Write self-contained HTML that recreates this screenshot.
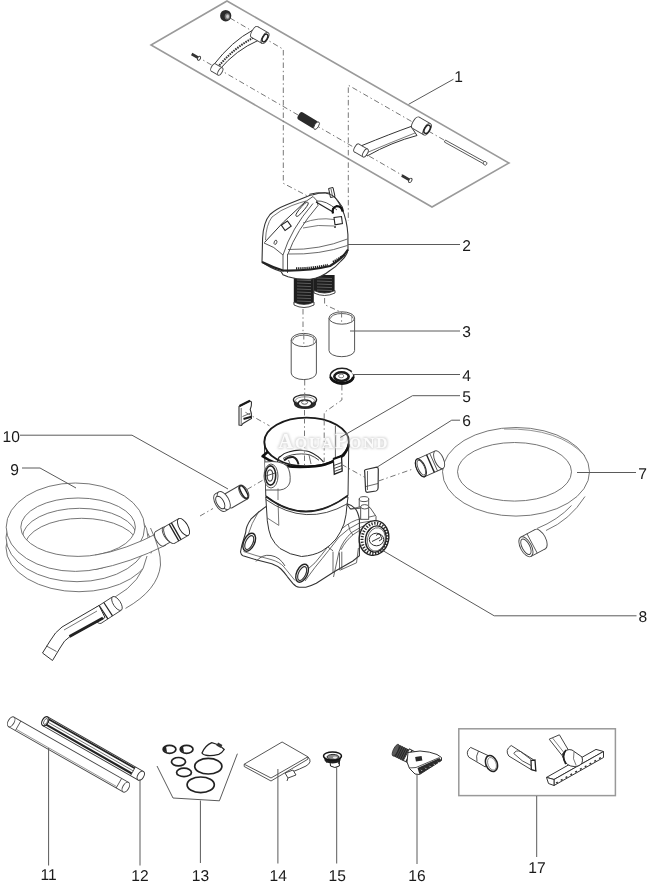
<!DOCTYPE html>
<html><head><meta charset="utf-8"><style>
html,body{margin:0;padding:0;background:#fff;}
svg{display:block;filter:grayscale(1);}
.lb{font-family:"Liberation Sans",sans-serif;font-size:15.6px;fill:#1a1a1a;text-rendering:geometricPrecision;}
.wm{font-family:"Liberation Serif",serif;font-size:15.5px;font-weight:bold;fill:#fff;fill-opacity:0.9;letter-spacing:1.9px;}
.ld{fill:none;stroke:#5a5a5a;stroke-width:1;}
.d{fill:none;stroke:#777;stroke-width:1;stroke-dasharray:5.5 2.8 1.4 2.8;}
</style></head><body>
<svg width="650" height="883" viewBox="0 0 650 883">
<defs><filter id="wmf" x="-10%" y="-30%" width="120%" height="160%"><feMorphology in="SourceAlpha" operator="dilate" radius="1" result="d"/><feGaussianBlur in="d" stdDeviation="1.2" result="b"/><feFlood flood-color="#d2d2d2" flood-opacity="0.9"/><feComposite in2="b" operator="in" result="s"/><feMerge><feMergeNode in="s"/><feMergeNode in="SourceGraphic"/></feMerge></filter></defs>
<polygon points="227,1 509,163 432,207 151,45" fill="none" stroke="#9a9a9a" stroke-width="1.6"/>
<polyline class="d" points="230,18 283.3,49.3 283.3,183.3 310.8,197.7"/>
<polyline class="d" points="196,56 407,178"/>
<polyline class="d" points="444,140 348.3,85.2 348.3,221"/>
<ellipse cx="225.7" cy="15.7" rx="5.6" ry="5.8" fill="#2b2b2b"/>
<ellipse cx="227.3" cy="16.4" rx="2.6" ry="3.2" fill="#777"/>
<ellipse cx="227.6" cy="16.6" rx="1.4" ry="2" fill="#ccc"/>
<g transform="translate(196,56.5) rotate(30)"><rect x="-5" y="-1.3" width="8" height="2.6" fill="#333"/><ellipse cx="3.5" cy="0" rx="1.3" ry="2.2" fill="#fff" stroke="#333" stroke-width="0.9"/></g>
<path d="M253,30 Q232,41 213.5,65 L219.5,69.5 Q236,50 258,40.5 Z" fill="#fff" stroke="#333" stroke-width="1" />
<path d="M255.5,36.5 Q234,47.5 218,67" fill="none" stroke="#333" stroke-width="2" stroke-dasharray="1.6 0.9"/>
<g transform="translate(259.8,35) rotate(30)"><ellipse cx="-6.0" cy="0" rx="2.79" ry="6.2" fill="#fff" stroke="#444" stroke-width="0.9"/><rect x="-6.0" y="-6.2" width="12" height="12.4" fill="#fff" stroke="none"/><line x1="-6.0" y1="-6.2" x2="6.0" y2="-6.2" stroke="#444" stroke-width="0.9"/><line x1="-6.0" y1="6.2" x2="6.0" y2="6.2" stroke="#444" stroke-width="0.9"/><ellipse cx="6.0" cy="0" rx="2.79" ry="6.2" fill="#fff" stroke="#444" stroke-width="0.9"/><ellipse cx="6" cy="0" rx="2.2" ry="4.2" fill="#fff" stroke="#222" stroke-width="1.5"/></g>
<g transform="translate(216.8,69.5) rotate(30)"><ellipse cx="-4.0" cy="0" rx="1.8900000000000001" ry="4.2" fill="#fff" stroke="#444" stroke-width="0.9"/><rect x="-4.0" y="-4.2" width="8" height="8.4" fill="#fff" stroke="none"/><line x1="-4.0" y1="-4.2" x2="4.0" y2="-4.2" stroke="#444" stroke-width="0.9"/><line x1="-4.0" y1="4.2" x2="4.0" y2="4.2" stroke="#444" stroke-width="0.9"/><ellipse cx="4.0" cy="0" rx="1.8900000000000001" ry="4.2" fill="#fff" stroke="#444" stroke-width="0.9"/></g>
<g transform="translate(308,120.5) rotate(31)"><rect x="-11" y="-4.3" width="21" height="8.6" rx="3" fill="#2a2a2a"/><ellipse cx="10" cy="0" rx="2" ry="4.3" fill="#fff" stroke="#333" stroke-width="0.8"/></g>
<path d="M411,126.5 Q390,134 362,145.5 L367,156 Q392,142 417,135.5 Z" fill="#fff" stroke="#333" stroke-width="1" />
<path d="M415,133 Q392,142 366,153" fill="none" stroke="#555" stroke-width="0.8" />
<g transform="translate(421.5,126) rotate(30)"><ellipse cx="-6.5" cy="0" rx="2.9699999999999998" ry="6.6" fill="#fff" stroke="#444" stroke-width="0.9"/><rect x="-6.5" y="-6.6" width="13" height="13.2" fill="#fff" stroke="none"/><line x1="-6.5" y1="-6.6" x2="6.5" y2="-6.6" stroke="#444" stroke-width="0.9"/><line x1="-6.5" y1="6.6" x2="6.5" y2="6.6" stroke="#444" stroke-width="0.9"/><ellipse cx="6.5" cy="0" rx="2.9699999999999998" ry="6.6" fill="#fff" stroke="#444" stroke-width="0.9"/><ellipse cx="6.5" cy="0" rx="2.5" ry="4.5" fill="#fff" stroke="#222" stroke-width="1.5"/></g>
<g transform="translate(361,150.5) rotate(30)"><ellipse cx="-5.0" cy="0" rx="2.07" ry="4.6" fill="#fff" stroke="#444" stroke-width="0.9"/><rect x="-5.0" y="-4.6" width="10" height="9.2" fill="#fff" stroke="none"/><line x1="-5.0" y1="-4.6" x2="5.0" y2="-4.6" stroke="#444" stroke-width="0.9"/><line x1="-5.0" y1="4.6" x2="5.0" y2="4.6" stroke="#444" stroke-width="0.9"/><ellipse cx="5.0" cy="0" rx="2.07" ry="4.6" fill="#fff" stroke="#444" stroke-width="0.9"/></g>
<g transform="translate(465,152.2) rotate(29)"><rect x="-23" y="-1.1" width="46" height="2.2" fill="#fff" stroke="#444" stroke-width="0.8"/><circle cx="23" cy="0" r="1.8" fill="#fff" stroke="#444" stroke-width="0.8"/></g>
<g transform="translate(407,178.5) rotate(30)"><rect x="-6" y="-1.3" width="9" height="2.6" fill="#333"/><ellipse cx="3.8" cy="0" rx="1.4" ry="2.4" fill="#fff" stroke="#333" stroke-width="0.9"/></g>
<polyline class="ld" points="408.6,104.3 453.5,79.2"/>
<text x="454.3" y="82.0" text-anchor="start" class="lb">1</text>
<polyline class="d" points="303,309 303,340"/>
<polyline class="d" points="324.6,298 324.6,304.6 341.5,312.3 341.5,321.5"/>
<rect x="293.8" y="277" width="20" height="27" fill="#1e1e1e"/>
<line x1="297" y1="280" x2="311" y2="280.6" stroke="#6a6a6a" stroke-width="0.8"/>
<line x1="297" y1="283" x2="311" y2="283.6" stroke="#6a6a6a" stroke-width="0.8"/>
<line x1="297" y1="286" x2="311" y2="286.6" stroke="#6a6a6a" stroke-width="0.8"/>
<line x1="297" y1="289" x2="311" y2="289.6" stroke="#6a6a6a" stroke-width="0.8"/>
<line x1="297" y1="292" x2="311" y2="292.6" stroke="#6a6a6a" stroke-width="0.8"/>
<line x1="297" y1="295" x2="311" y2="295.6" stroke="#6a6a6a" stroke-width="0.8"/>
<line x1="297" y1="298" x2="311" y2="298.6" stroke="#6a6a6a" stroke-width="0.8"/>
<line x1="297" y1="301" x2="311" y2="301.6" stroke="#6a6a6a" stroke-width="0.8"/>
<path d="M294,302 Q304,307 314,302 L314,305 Q304,310 294,305 Z" fill="#fff" stroke="#333" stroke-width="0.9" />
<rect x="313.6" y="275" width="21" height="18" fill="#1e1e1e"/>
<line x1="317" y1="278" x2="332" y2="278.6" stroke="#6a6a6a" stroke-width="0.8"/>
<line x1="317" y1="281" x2="332" y2="281.6" stroke="#6a6a6a" stroke-width="0.8"/>
<line x1="317" y1="284" x2="332" y2="284.6" stroke="#6a6a6a" stroke-width="0.8"/>
<line x1="317" y1="287" x2="332" y2="287.6" stroke="#6a6a6a" stroke-width="0.8"/>
<line x1="317" y1="290" x2="332" y2="290.6" stroke="#6a6a6a" stroke-width="0.8"/>
<path d="M314,290.5 Q324.5,295.5 335,290.5 L335,293 Q324.5,298 314,293 Z" fill="#fff" stroke="#333" stroke-width="0.9" />
<path d="M262,262 L262.6,238 Q263.5,222 270,214.5 Q276,209 286,205 Q297,200.5 307.7,196.2 Q310,195 313,194.7 Q321,192 329,193 Q336,196 342,208.7 Q347,220 347.9,234.5 L348,249.6 Q347,256 341,261 Q336,267 330,270.5 Q321,278 310,279.3 Q297,279.6 288,276.8 L283,274.8 L281,271.5 Q270,268 262,262 Z" fill="#fff" stroke="#333" stroke-width="1.1" />
<path d="M264.5,242.5 Q282,222 305,202" fill="none" stroke="#333" stroke-width="1" />
<path d="M264,243 Q274,246 283,255 L283,272 M287.5,254 L287.5,273" fill="none" stroke="#444" stroke-width="0.9" />
<path d="M283,255 Q291,229 313,203.5 M288,254 Q296,231 318,205.5 M305,202 L313,196.5 Q318,200 318,205.5" fill="none" stroke="#444" stroke-width="0.9" />
<path d="M265.5,240 Q266,225 272,217 Q280,210 292,205.5 Q300,202.5 306,201" fill="none" stroke="#555" stroke-width="0.8" />
<path d="M316,201 Q326,200 337,210" fill="none" stroke="#444" stroke-width="0.9" />
<path d="M303,223 Q318,217 334,219.5 M303,228 Q318,224 334,226" fill="none" stroke="#555" stroke-width="0.8" />
<path d="M288,249.5 Q320,250 347.4,239 M288,254 Q320,255 347.4,245.5" fill="none" stroke="#444" stroke-width="0.8" />
<path d="M262,262 Q272,267 283,270.5 Q310,271 330,266 Q342,259 348,249.5" fill="none" stroke="#222" stroke-width="2.2" />
<path d="M296,268.5 Q312,268.5 328,265" fill="none" stroke="#222" stroke-width="2.4" stroke-dasharray="1.3 0.8"/>
<path d="M333,262 L345,255" fill="none" stroke="#222" stroke-width="2.4" stroke-dasharray="1.3 0.8"/>
<rect x="282.5" y="222.5" width="7.5" height="6.5" fill="#fff" stroke="#222" stroke-width="1.1" transform="rotate(-35 286.2 225.7)"/>
<ellipse cx="275.5" cy="242.3" rx="1.3" ry="2.2" fill="none" stroke="#333" stroke-width="0.8" transform="rotate(20 275.5 242.3)"/>
<path d="M296,214.5 Q298,210 305,203.2 Q308.5,200.8 308.2,204 Q306,208.5 298.5,215.8 Q295.5,217.5 296,214.5 Z" fill="#fff" stroke="#333" stroke-width="1" />
<path d="M328.6,188.5 L333,187.5 L335,196.5 L330.5,197.5 Z" fill="#fff" stroke="#222" stroke-width="1"/>
<path d="M331,189 L332.6,196.5" fill="none" stroke="#444" stroke-width="0.8" />
<path d="M309.3,194.3 Q317,192 325.4,193 Q331,194 333.9,196.4 Q338,200 342.4,207 Q343.5,210 343.2,212.1" fill="none" stroke="#333" stroke-width="1" />
<path d="M316,202 L333,212" fill="none" stroke="#222" stroke-width="1.2" />
<path d="M333,213.5 Q331.5,207.5 336.5,206.2 Q341.5,206 342.6,211.5" fill="none" stroke="#111" stroke-width="2.2" />
<path d="M334,217.5 L341.5,216.5 L342.4,223.5 L335,224.8 Z" fill="#fff" stroke="#222" stroke-width="1.1" />
<ellipse cx="335" cy="227" rx="1" ry="1" fill="#333"/>
<polyline class="ld" points="348,244.5 460,244.5"/>
<text x="462.2" y="250.8" text-anchor="start" class="lb">2</text>
<path d="M329.0,318 L329.0,350.5 A12.8,6.2 0 0 0 354.6,350.5 L354.6,318" fill="#fff" stroke="#555" stroke-width="1"/>
<ellipse cx="341.8" cy="318" rx="12.8" ry="6.2" fill="#fff" stroke="#555" stroke-width="1"/>
<path d="M330.5,318.5 A11.3,5.0 0 0 1 353.1,318.5" fill="none" stroke="#555" stroke-width="0.9"/>
<path d="M351.6,313.6 L351.6,322.7" fill="none" stroke="#888" stroke-width="0.7"/>
<path d="M291.2,340 L291.2,373 A12.6,6.6 0 0 0 316.40000000000003,373 L316.40000000000003,340" fill="#fff" stroke="#555" stroke-width="1"/>
<ellipse cx="303.8" cy="340" rx="12.6" ry="6.6" fill="#fff" stroke="#555" stroke-width="1"/>
<path d="M292.7,340.5 A11.1,5.3999999999999995 0 0 1 314.90000000000003,340.5" fill="none" stroke="#555" stroke-width="0.9"/>
<path d="M313.40000000000003,335.2 L313.40000000000003,345.1" fill="none" stroke="#888" stroke-width="0.7"/>
<polyline class="d" points="303.8,334 303.8,346"/>
<polyline class="d" points="341.6,312 341.6,324"/>
<polyline class="ld" points="350,331 460,331"/>
<text x="462.2" y="336.9" text-anchor="start" class="lb">3</text>
<polyline class="d" points="304.7,380 304.7,394"/>
<polyline class="d" points="341.9,385 341.9,400 324.2,412.5 324.2,420"/>
<ellipse cx="342" cy="376.3" rx="11.8" ry="8" fill="#fff" stroke="#222" stroke-width="1.5"/>
<path d="M330.5,377 A11.8,8 0 0 0 353.5,377" fill="none" stroke="#111" stroke-width="2.6"/>
<ellipse cx="341.5" cy="376.6" rx="7.2" ry="4.4" fill="#fff" stroke="#1a1a1a" stroke-width="2.6"/>
<ellipse cx="341.2" cy="376" rx="2.6" ry="1.8" fill="#fff" stroke="#555" stroke-width="0.7"/>
<path d="M352,371.5 L355,374.5" stroke="#fff" stroke-width="2.2"/>
<path d="M293.4,399.7 L294.2,405 A11,5 0 0 0 315.8,405 L316.6,399.7 Z" fill="#2a2a2a"/>
<ellipse cx="305" cy="399.7" rx="11.6" ry="4.9" fill="#fff" stroke="#222" stroke-width="1.3"/>
<ellipse cx="305" cy="400.4" rx="9.5" ry="3.6" fill="none" stroke="#666" stroke-width="0.7"/>
<ellipse cx="305" cy="403.5" rx="6.8" ry="3.6" fill="#fff" stroke="#222" stroke-width="1.5"/>
<ellipse cx="304.6" cy="402.4" rx="3" ry="1.8" fill="#fff" stroke="#444" stroke-width="0.9"/>
<polyline class="d" points="304.7,394 304.7,399"/>
<polyline class="ld" points="353,374.5 460,374.5"/>
<text x="462.2" y="380.8" text-anchor="start" class="lb">4</text>
<polyline class="d" points="304.5,410 304.5,480"/>
<polyline class="d" points="324.2,420 324.2,455"/>
<path d="M266.6,506.2 Q258.8,511.4 250.9,519.2 Q246,526 245.7,532.3 L241.8,545.4 L240.5,552 Q241,555 243,555.8 L256.2,559.8 L271.8,563.7 Q278,566 281,569 Q285,573 287.5,576.8 L292.8,583.3 Q296,587 299.3,587.2 L305.8,587.2 Q311,586 316.3,583.3 L334.6,571.5 L352.9,561 L359.4,555.8 L359.4,519.2 Q358,512 355.5,508.8 Q352,505 346.4,503.5 Z" fill="#fff" stroke="#333" stroke-width="1.1" />
<path d="M243.5,551.5 L256,555.5 L271,559.5 Q280,562 284,567 L295,580.5" fill="none" stroke="#555" stroke-width="0.8" />
<path d="M259,511 Q251,524 248,535" fill="none" stroke="#555" stroke-width="0.8" />
<path d="M256,561.5 Q262,554 271,555.5 Q280,557 285,566" fill="none" stroke="#444" stroke-width="0.9" />
<path d="M346.5,504.5 L351,509 L370,507.5 L376,516.3 L376,522" fill="none" stroke="#444" stroke-width="0.9" />
<path d="M300,576 Q308,569 315,562.8 Q330,545 338,532.3 Q346,524 356.5,519.9 L375,515.7" fill="none" stroke="#444" stroke-width="0.8" />
<path d="M305,581 Q310,574 315,567.4 Q330,549 339,537 Q348,528 359.3,523 L370.4,521.2" fill="none" stroke="#444" stroke-width="0.8" />
<path d="M333.5,577 L339,551.7 Q343,540 352,532.3 Q360,527 370.4,523" fill="none" stroke="#444" stroke-width="0.8" />
<path d="M340.9,549.9 Q346,540 353.8,534.2 Q362,528 370.4,525" fill="none" stroke="#444" stroke-width="0.8" />
<path d="M333,551.7 L333,573 M339.5,552.6 L339.5,570.2 M341.8,551.7 L341.8,569.3" fill="none" stroke="#444" stroke-width="0.8" />
<path d="M327.9,547.1 L333,550.8 M348.2,524 L350,530.5 L352.9,535" fill="none" stroke="#444" stroke-width="0.8" />
<path d="M358.4,548 L356.5,562.8 L340,570.2" fill="none" stroke="#444" stroke-width="0.8" />
<path d="M347.3,503.7 L350,509.2 L359.3,507" fill="none" stroke="#444" stroke-width="0.8" />
<ellipse cx="249.2" cy="542.2" rx="5.4" ry="9.6" fill="#fff" stroke="#222" stroke-width="1.4" transform="rotate(25 249.2 542.2)"/>
<ellipse cx="249.39999999999998" cy="542.5" rx="3.6" ry="7.4" fill="none" stroke="#333" stroke-width="1.1" transform="rotate(25 249.2 542.2)"/>
<ellipse cx="302.1" cy="573.2" rx="5.4" ry="9.6" fill="#fff" stroke="#222" stroke-width="1.4" transform="rotate(25 302.1 573.2)"/>
<ellipse cx="302.3" cy="573.5" rx="3.6" ry="7.4" fill="none" stroke="#333" stroke-width="1.1" transform="rotate(25 302.1 573.2)"/>
<path d="M265.8,497 L267.3,520.8 Q268.5,531 271,537 Q275,544.5 280,548.5 Q290,555 301.5,556.5 Q314,555.5 322,551 Q331,545.5 336,539 Q341,532 344,524 Q346.5,515 347,505 L348,497 Z" fill="#fff" stroke="#333" stroke-width="1" />
<path d="M278,500 L278.8,525.4 M267.3,518 L278.8,525.4" fill="none" stroke="#555" stroke-width="0.8" />
<path d="M264.4,443 L265.8,496.2 Q305.8,527.2 348,495.4 L348.8,443 Z" fill="#fff" stroke="#333" stroke-width="1" />
<path d="M265.8,496.2 Q305.8,527.2 348,495.4" fill="none" stroke="#222" stroke-width="1.8" />
<path d="M265.8,499.5 Q305.8,527.5 347.3,503.8" fill="none" stroke="#333" stroke-width="0.9" />
<ellipse cx="306.6" cy="442" rx="42.3" ry="24.4" fill="#fff" stroke="#1a1a1a" stroke-width="1.9"/>
<path d="M268.2,451.5 L262.6,456.3 Q268,460 275.8,463.2 Q284,466.5 300,467 Q318,466.5 325,464.4 Q336,461 343.5,455.2 Q348,449 349,444" fill="none" stroke="#111" stroke-width="2.6" stroke-linejoin="round"/>
<path d="M335.4,425.5 L335.4,460" fill="none" stroke="#555" stroke-width="0.9" />
<path d="M277.4,463 Q278,457 280.2,456.6 Q284,453 288.5,452 Q295,450 300.5,450.2 Q305,450.5 308.8,451.5 Q314,453.5 318,456.6 Q321,459 323.6,462.2" fill="none" stroke="#222" stroke-width="1.2" />
<path d="M283,458.5 Q287,456 292.2,454.8 Q297,454 301.4,453.9 Q306,454 309.7,454.8 Q315,457 319,460.3" fill="none" stroke="#333" stroke-width="0.9" />
<path d="M284,460.5 Q288,456.5 293,457 Q297,458 298.6,464.5" fill="none" stroke="#222" stroke-width="1.9" />
<path d="M279,459.5 L283,465 M288.5,460 L290.5,465.5 M309,455 L311,464" fill="none" stroke="#444" stroke-width="0.8" />
<path d="M265,462 Q280,460 287,466 Q291,472 290,482 Q288,489 280,490 L266,490" fill="#fff" stroke="#444" stroke-width="0.9" />
<path d="M278,488.5 L278,500" fill="none" stroke="#555" stroke-width="0.8" />
<ellipse cx="271" cy="476" rx="7" ry="12" fill="#fff" stroke="#444" stroke-width="0.9"/>
<ellipse cx="270.5" cy="475.5" rx="5.2" ry="9.6" fill="#fff" stroke="#222" stroke-width="1.6"/>
<ellipse cx="270" cy="475.5" rx="2.8" ry="5.6" fill="none" stroke="#444" stroke-width="1.1"/>
<path d="M266,476 L275,473" fill="none" stroke="#444" stroke-width="0.9" />
<path d="M333.3,459 L341.5,456 L342.2,471 L334.3,474.2 Z" fill="#fff" stroke="#222" stroke-width="1.3" />
<path d="M333.8,465.5 L341.8,462.5 M334,468.5 L342,465.5 M334.2,471.5 L342.1,468.5" fill="none" stroke="#333" stroke-width="0.9" />
<path d="M333.3,459 L341.5,456" fill="none" stroke="#111" stroke-width="2.2" />
<polyline class="d" points="304.5,418 304.5,466"/>
<polyline class="d" points="324.2,420 324.2,462"/>
<rect x="359.2" y="499.1" width="9.5" height="8" fill="#fff" stroke="#444" stroke-width="0.9"/>
<ellipse cx="364" cy="499.1" rx="4.75" ry="2.5" fill="#fff" stroke="#444" stroke-width="0.9"/>
<rect x="360.7" y="506.8" width="8" height="12.5" fill="#fff" stroke="#444" stroke-width="0.9"/>
<ellipse cx="364.7" cy="506.8" rx="4" ry="2.2" fill="#fff" stroke="#444" stroke-width="0.9"/>
<ellipse cx="374" cy="538" rx="14.7" ry="17.5" fill="#fff" stroke="#222" stroke-width="1.4" transform="rotate(12 374 538)"/>
<ellipse cx="374.6" cy="538.4" rx="12.5" ry="15.3" fill="none" stroke="#2a2a2a" stroke-width="3" stroke-dasharray="1.3 1.5" transform="rotate(12 374.6 538.4)"/>
<ellipse cx="375.8" cy="539" rx="10.2" ry="13.2" fill="#fff" stroke="#222" stroke-width="1.4" transform="rotate(12 375.8 539)"/>
<ellipse cx="376.3" cy="539.4" rx="8.8" ry="11.8" fill="none" stroke="#555" stroke-width="0.8" transform="rotate(12 376.3 539.4)"/>
<ellipse cx="376.5" cy="539.5" rx="7.2" ry="6.3" fill="none" stroke="#333" stroke-width="1"/>
<path d="M372,541.5 L380,537.5 M376,535.5 Q378,533 380,534.5 L382,539 L379,541" fill="none" stroke="#333" stroke-width="1" />
<g filter="url(#wmf)"><text x="278.6" y="448" class="wm"><tspan font-size="20">A</tspan>QUA<tspan font-size="20">P</tspan>OND</text></g>
<path d="M239,406.5 L249.8,400.8 L251.5,402 L251.3,406 L250.2,409.5 L251.3,413 L251.5,418.5 L243,423.5 L241.5,425.4 L239,425 Z" fill="#fff" stroke="#333" stroke-width="1.1" />
<path d="M239.5,406 L250,400.8" fill="none" stroke="#1a1a1a" stroke-width="2.2" />
<path d="M241.2,408 L241.2,424.5 M242.5,416.5 L250.5,413.2" fill="none" stroke="#444" stroke-width="0.8" />
<path d="M243.5,419 L251.3,416.8" fill="none" stroke="#1a1a1a" stroke-width="2" />
<polyline class="d" points="245.4,412.3 269.5,425.8"/>
<polyline class="d" points="341.6,464.4 364.7,477.3"/>
<path d="M364.7,471.8 Q364,470 366,469.5 L376.7,467.2 Q378.5,467.5 378.3,469.5 L378.1,488 Q378,490.5 376,491 L367,492.3 Q365.5,492 365.6,490.2 Z" fill="#fff" stroke="#333" stroke-width="1.2" />
<path d="M367.5,471 L367.5,490 M366,486.5 L378,483.5" fill="none" stroke="#444" stroke-width="0.8" />
<polyline class="d" points="378.5,481 413,469"/>
<polyline class="ld" points="340.4,437.4 412.5,395.7 460,395.7"/>
<text x="462.2" y="401.8" text-anchor="start" class="lb">5</text>
<polyline class="ld" points="377,467.2 451.7,420.2 460,420.2"/>
<text x="462.2" y="426.4" text-anchor="start" class="lb">6</text>
<ellipse cx="516" cy="471.8" rx="73.5" ry="44.3" fill="none" stroke="#666" stroke-width="0.9"/>
<ellipse cx="514.5" cy="471.8" rx="57" ry="29.3" fill="none" stroke="#666" stroke-width="0.9"/>
<path d="M504,429 Q560,428 585,456" fill="none" stroke="#777" stroke-width="0.8" />
<path d="M585,496.5 Q570,520 546,530.5 M571.5,505.5 Q558,520 537,528.5" fill="none" stroke="#666" stroke-width="0.9" />
<g transform="translate(430,463.8) rotate(-24)"><ellipse cx="-10.0" cy="0" rx="4.32" ry="9.6" fill="#fff" stroke="#444" stroke-width="0.9"/><rect x="-10.0" y="-9.6" width="20" height="19.2" fill="#fff" stroke="none"/><line x1="-10.0" y1="-9.6" x2="10.0" y2="-9.6" stroke="#444" stroke-width="0.9"/><line x1="-10.0" y1="9.6" x2="10.0" y2="9.6" stroke="#444" stroke-width="0.9"/><ellipse cx="10.0" cy="0" rx="4.32" ry="9.6" fill="#fff" stroke="#444" stroke-width="0.9"/><line x1="0.5" y1="-9.6" x2="0.5" y2="9.6" stroke="#222" stroke-width="1.4"/><line x1="4" y1="-9.6" x2="4" y2="9.6" stroke="#444" stroke-width="0.8"/><ellipse cx="-10" cy="0" rx="4.3" ry="9.6" fill="#fff" stroke="#222" stroke-width="1.2"/><ellipse cx="-9.5" cy="0" rx="3.2" ry="8" fill="#fff" stroke="#444" stroke-width="0.9"/></g>
<g transform="translate(533,543) rotate(152)"><ellipse cx="-8.0" cy="0" rx="5.5" ry="11" fill="#fff" stroke="#444" stroke-width="0.9"/><rect x="-8.0" y="-11" width="16" height="22" fill="#fff" stroke="none"/><line x1="-8.0" y1="-11" x2="8.0" y2="-11" stroke="#444" stroke-width="0.9"/><line x1="-8.0" y1="11" x2="8.0" y2="11" stroke="#444" stroke-width="0.9"/><ellipse cx="8.0" cy="0" rx="5.5" ry="11" fill="#fff" stroke="#444" stroke-width="0.9"/><line x1="1" y1="-11" x2="1" y2="11" stroke="#444" stroke-width="0.8"/><ellipse cx="8" cy="0" rx="3.8" ry="8.5" fill="#fff" stroke="#444" stroke-width="0.9"/></g>
<polyline class="ld" points="577,472.5 636,472.5"/>
<text x="638.3" y="478.6" text-anchor="start" class="lb">7</text>
<polyline class="ld" points="381,549.5 494.2,615.8 636.5,615.8"/>
<text x="638.6" y="622.3" text-anchor="start" class="lb">8</text>
<path d="M6,547.5 A73,44.2 0 1 0 152,547.5 A73,44.2 0 1 0 6,547.5 Z M24.400000000000006,547.5 A57.3,29.2 0 1 1 139.0,547.5 A57.3,29.2 0 1 1 24.400000000000006,547.5 Z" fill="#fff" fill-rule="evenodd" stroke="#666" stroke-width="0.9"/>
<path d="M6,537.5 A71,44.2 0 1 0 148,537.5 A71,44.2 0 1 0 6,537.5 Z M22.400000000000006,537.5 A57.3,29.2 0 1 1 137.0,537.5 A57.3,29.2 0 1 1 22.400000000000006,537.5 Z" fill="#fff" fill-rule="evenodd" stroke="#666" stroke-width="0.9"/>
<path d="M6.200000000000003,527.2 A69.2,44.2 0 1 0 144.60000000000002,527.2 A69.2,44.2 0 1 0 6.200000000000003,527.2 Z M20.80000000000001,527.2 A57.3,29.2 0 1 1 135.4,527.2 A57.3,29.2 0 1 1 20.80000000000001,527.2 Z" fill="#fff" fill-rule="evenodd" stroke="#666" stroke-width="0.9"/>
<path d="M95,555.1 Q125,550.4 160,532 L166,545 Q130,563 95,569.6 Z" fill="#fff" stroke="none" stroke-width="0" />
<path d="M95,555.1 Q125,550.4 160,532 M95,569.6 Q130,563 166,545" fill="none" stroke="#666" stroke-width="0.9" />
<path d="M147,554 Q142,582 115,597 L125.5,608.4 Q160,585 160.8,552 Z" fill="#fff" stroke="none" stroke-width="0" />
<path d="M147,556 Q142,582 115,597" fill="none" stroke="#666" stroke-width="0.9" />
<path d="M150.5,528 Q161,550 160.5,565 Q158,590 125.5,608.4" fill="none" stroke="#666" stroke-width="0.9" />
<g transform="translate(163.5,536.5) rotate(-30)"><ellipse cx="-4.5" cy="0" rx="3.69" ry="8.2" fill="#fff" stroke="#444" stroke-width="0.9"/><rect x="-4.5" y="-8.2" width="9" height="16.4" fill="#fff" stroke="none"/><line x1="-4.5" y1="-8.2" x2="4.5" y2="-8.2" stroke="#444" stroke-width="0.9"/><line x1="-4.5" y1="8.2" x2="4.5" y2="8.2" stroke="#444" stroke-width="0.9"/><ellipse cx="4.5" cy="0" rx="3.69" ry="8.2" fill="#fff" stroke="#444" stroke-width="0.9"/></g>
<g transform="translate(176.6,531) rotate(-30)"><ellipse cx="-8.0" cy="0" rx="4.32" ry="9.6" fill="#fff" stroke="#444" stroke-width="0.9"/><rect x="-8.0" y="-9.6" width="16" height="19.2" fill="#fff" stroke="none"/><line x1="-8.0" y1="-9.6" x2="8.0" y2="-9.6" stroke="#444" stroke-width="0.9"/><line x1="-8.0" y1="9.6" x2="8.0" y2="9.6" stroke="#444" stroke-width="0.9"/><ellipse cx="8.0" cy="0" rx="4.32" ry="9.6" fill="#fff" stroke="#222" stroke-width="0.9"/><line x1="-3" y1="-9.6" x2="-3" y2="9.6" stroke="#222" stroke-width="1.3"/><line x1="-0.5" y1="-9.6" x2="-0.5" y2="9.6" stroke="#222" stroke-width="1.3"/></g>
<g transform="translate(106.9,610) rotate(-33)"><ellipse cx="-12.0" cy="0" rx="3.6" ry="8" fill="#fff" stroke="#444" stroke-width="0.9"/><rect x="-12.0" y="-8" width="24" height="16" fill="#fff" stroke="none"/><line x1="-12.0" y1="-8" x2="12.0" y2="-8" stroke="#444" stroke-width="0.9"/><line x1="-12.0" y1="8" x2="12.0" y2="8" stroke="#444" stroke-width="0.9"/><ellipse cx="12.0" cy="0" rx="3.6" ry="8" fill="#fff" stroke="#444" stroke-width="0.9"/><line x1="-4" y1="-8" x2="-4" y2="8" stroke="#222" stroke-width="1.2"/><line x1="1.5" y1="-8" x2="1.5" y2="8" stroke="#222" stroke-width="1.2"/></g>
<path d="M99,605.5 L62,627 Q55,632 50,641 L42.5,653 L52.5,660.5 L60,648 Q64,640 70,636.5 L105,617.5 Z" fill="#fff" stroke="#333" stroke-width="1" />
<path d="M103,618 L69.5,636.5" fill="none" stroke="#222" stroke-width="2.8" />
<path d="M64,630 L97,611" fill="none" stroke="#555" stroke-width="0.8" />
<path d="M46.5,646 L56.5,651.5" fill="none" stroke="#444" stroke-width="0.8" />
<polyline class="ld" points="22,468 40,468 76,488"/>
<text x="10.3" y="474.6" text-anchor="start" class="lb">9</text>
<polyline class="ld" points="20,435.2 132,435.2 228,489"/>
<text x="2.5" y="441.6" text-anchor="start" class="lb">10</text>
<polyline class="d" points="200,516 213,508.5"/>
<polyline class="d" points="247,489.5 264,479.5"/>
<g transform="translate(236,496.5) rotate(-30)"><ellipse cx="-9.0" cy="0" rx="3.9" ry="7.8" fill="#fff" stroke="#444" stroke-width="0.9"/><rect x="-9.0" y="-7.8" width="18" height="15.6" fill="#fff" stroke="none"/><line x1="-9.0" y1="-7.8" x2="9.0" y2="-7.8" stroke="#444" stroke-width="0.9"/><line x1="-9.0" y1="7.8" x2="9.0" y2="7.8" stroke="#444" stroke-width="0.9"/><ellipse cx="9.0" cy="0" rx="3.9" ry="7.8" fill="#fff" stroke="#444" stroke-width="0.9"/><ellipse cx="9" cy="0" rx="2.5" ry="7" fill="#fff" stroke="#222" stroke-width="1.5"/></g>
<g transform="translate(222,501.5) rotate(-30)"><ellipse cx="-2.0" cy="0" rx="5.0" ry="10" fill="#fff" stroke="#444" stroke-width="0.9"/><rect x="-2.0" y="-10" width="4" height="20" fill="#fff" stroke="none"/><line x1="-2.0" y1="-10" x2="2.0" y2="-10" stroke="#444" stroke-width="0.9"/><line x1="-2.0" y1="10" x2="2.0" y2="10" stroke="#444" stroke-width="0.9"/><ellipse cx="2.0" cy="0" rx="5.0" ry="10" fill="#fff" stroke="#444" stroke-width="0.9"/><ellipse cx="-2" cy="0" rx="3.5" ry="7" fill="#fff" stroke="#333" stroke-width="0.9"/></g>
<g transform="translate(68.5,754.5) rotate(29.7)"><rect x="-66" y="-5.5" width="132" height="11" fill="#fff" stroke="#444" stroke-width="0.9"/><ellipse cx="-66" cy="0" rx="3" ry="5.5" fill="#fff" stroke="#444" stroke-width="0.9"/><ellipse cx="66" cy="0" rx="3" ry="5.5" fill="#fff" stroke="#444" stroke-width="0.9"/><line x1="-58" y1="-5.5" x2="-58" y2="5.5" stroke="#444" stroke-width="0.8"/><line x1="58" y1="-5.5" x2="58" y2="5.5" stroke="#444" stroke-width="0.8"/><line x1="-58" y1="4" x2="58" y2="4" stroke="#888" stroke-width="0.8"/></g>
<g transform="translate(93,748.5) rotate(29.7)"><rect x="-55" y="-5" width="110" height="10" fill="#fff" stroke="#333" stroke-width="0.9"/><line x1="-53" y1="-3.5" x2="46" y2="-3.5" stroke="#222" stroke-width="1.8"/><line x1="-53" y1="2.5" x2="46" y2="2.5" stroke="#222" stroke-width="2.2"/><line x1="-53" y1="-0.5" x2="46" y2="-0.5" stroke="#666" stroke-width="0.8"/><ellipse cx="-55" cy="0" rx="3" ry="5" fill="#fff" stroke="#222" stroke-width="1.2"/><ellipse cx="-54.5" cy="0" rx="1.6" ry="3.3" fill="none" stroke="#555" stroke-width="0.8"/><ellipse cx="55" cy="0" rx="3" ry="5" fill="#fff" stroke="#333" stroke-width="0.9"/><line x1="46" y1="-5" x2="46" y2="5" stroke="#333" stroke-width="0.8"/></g>
<polyline class="ld" points="48.6,748 48.6,865.5"/>
<text x="48.5" y="880.3" text-anchor="middle" class="lb">11</text>
<polyline class="ld" points="140,779 140,865.5"/>
<text x="140" y="880.8" text-anchor="middle" class="lb">12</text>
<polyline class="ld" points="157,766 173,798 219.4,800.8 237.4,753.7"/>
<polyline class="ld" points="200.4,800.5 200.4,863"/>
<text x="200.5" y="880.8" text-anchor="middle" class="lb">13</text>
<ellipse cx="169.5" cy="749.3" rx="6.4" ry="4" fill="none" stroke="#222" stroke-width="1.7"/>
<ellipse cx="186.6" cy="749.3" rx="6.4" ry="4" fill="none" stroke="#222" stroke-width="1.7"/>
<ellipse cx="178.5" cy="761.7" rx="7" ry="4.2" fill="none" stroke="#222" stroke-width="1.7"/>
<ellipse cx="208.3" cy="766.2" rx="13.6" ry="7.8" fill="none" stroke="#222" stroke-width="1.7"/>
<ellipse cx="184" cy="772.4" rx="7.4" ry="4.2" fill="none" stroke="#222" stroke-width="1.7"/>
<ellipse cx="200.7" cy="784.8" rx="13.6" ry="7.8" fill="none" stroke="#222" stroke-width="1.7"/>
<path d="M163.5,749 A6.4,4 0 0 1 166,746 L167,752.5 A6.4,4 0 0 1 163.5,749 Z" fill="#222"/>
<path d="M180.5,749 A6.4,4 0 0 1 183,746 L184,752.5 A6.4,4 0 0 1 180.5,749 Z" fill="#222"/>
<path d="M202,753 Q205,745.5 211.8,742.6 L216,744 Q221,746 224.2,749.5 Q222,753 218.7,754.4 Q212,756 207.6,755.5 Q203,755 202,753 Z" fill="#fff" stroke="#222" stroke-width="1.3" />
<rect x="217" y="743.5" width="5" height="3.5" fill="#333" transform="rotate(30 219.5 745)"/>
<path d="M244.2,764.2 L282.1,742 L307.9,756.8 L271,778 Z" fill="#fff" stroke="#444" stroke-width="0.9" />
<path d="M244.2,764.2 L244.2,766.5 L271,781 L307.9,759.2 L307.9,756.8" fill="none" stroke="#444" stroke-width="0.9" />
<path d="M308,757 Q313,762 306,766 Q300,769 292,772" fill="none" stroke="#333" stroke-width="0.9" />
<path d="M285,773 L293,770 L296,775 L288,778 Z M288,778 L287,781" fill="#fff" stroke="#333" stroke-width="0.9" />
<polyline class="ld" points="277.9,769 277.9,863.5"/>
<text x="278.3" y="881.0" text-anchor="middle" class="lb">14</text>
<path d="M330,761 L330.5,766 Q334.8,769 339.3,766 L339.5,761 Z" fill="#fff" stroke="#222" stroke-width="1" />
<path d="M323.5,756 L324.8,761 A8.3,3.8 0 0 0 340.2,761 L341.5,756 Z" fill="#1e1e1e"/>
<ellipse cx="332.5" cy="756" rx="9" ry="4" fill="#fff" stroke="#111" stroke-width="1.5"/>
<ellipse cx="333" cy="757" rx="6" ry="2.6" fill="#8a8a8a" stroke="#222" stroke-width="0.9"/>
<ellipse cx="335" cy="757.6" rx="2.2" ry="1.1" fill="#e8e8e8"/>
<path d="M326,760 L327,763 M338,761 L338.8,764" fill="none" stroke="#222" stroke-width="0.9" />
<polyline class="ld" points="336.7,767 336.7,863.5"/>
<text x="337.3" y="881.0" text-anchor="middle" class="lb">15</text>
<g transform="translate(401.5,753) rotate(26)"><rect x="-6.5" y="-6.4" width="13" height="12.8" fill="#4a4a4a"/><ellipse cx="-6.5" cy="0" rx="2.3" ry="6.4" fill="#5a5a5a" stroke="#333" stroke-width="0.8"/><line x1="-4" y1="-6.4" x2="-4" y2="6.4" stroke="#222" stroke-width="0.8"/><line x1="-2" y1="-6.4" x2="-2" y2="6.4" stroke="#222" stroke-width="0.8"/><line x1="0" y1="-6.4" x2="0" y2="6.4" stroke="#222" stroke-width="0.8"/><line x1="2" y1="-6.4" x2="2" y2="6.4" stroke="#222" stroke-width="0.8"/><line x1="4" y1="-6.4" x2="4" y2="6.4" stroke="#222" stroke-width="0.8"/></g>
<g transform="translate(409,756) rotate(28)"><rect x="-3" y="-6.5" width="6" height="13" fill="#fff" stroke="#333" stroke-width="0.9"/><line x1="0" y1="-6.5" x2="0" y2="6.5" stroke="#222" stroke-width="1.4"/></g>
<path d="M408,752.5 L420,751 Q430,751.5 437,754.5 L441.5,757.5 L441.5,760.5 L419.5,774.5 L415,774 L409.5,768.5 L407,762 Z" fill="#fff" stroke="#333" stroke-width="1" />
<path d="M417.5,768 L439.5,758 L441.5,760.5 L419.5,774.5 Z" fill="#2a2a2a"/>
<line x1="421.0" y1="769.8" x2="422.2" y2="771.0" stroke="#ddd" stroke-width="0.8"/>
<line x1="425.2" y1="767.8" x2="426.4" y2="769.0" stroke="#ddd" stroke-width="0.8"/>
<line x1="429.4" y1="765.8" x2="430.59999999999997" y2="767.0" stroke="#ddd" stroke-width="0.8"/>
<line x1="433.6" y1="763.8" x2="434.8" y2="765.0" stroke="#ddd" stroke-width="0.8"/>
<line x1="437.8" y1="761.8" x2="439.0" y2="763.0" stroke="#ddd" stroke-width="0.8"/>
<path d="M409,768 L416,767.5 L439.5,757.5" fill="none" stroke="#444" stroke-width="0.9" />
<rect x="415.5" y="756.5" width="6.5" height="4.5" fill="#2a2a2a" transform="rotate(-10 418.7 758.7)"/>
<polyline class="ld" points="417,774 417,864"/>
<text x="417" y="881.4" text-anchor="middle" class="lb">16</text>
<rect x="458.8" y="728.8" width="156.6" height="66.8" fill="none" stroke="#999" stroke-width="1.5"/>
<path d="M470.6,747.4 L490.3,756.6 L485.4,767 L468.8,757.2 Q465,752 470.6,747.4 Z" fill="#fff" stroke="#444" stroke-width="1" />
<path d="M478.5,751 Q475.5,756 477,761.5" fill="none" stroke="#444" stroke-width="0.9" />
<ellipse cx="491.5" cy="763.5" rx="5.6" ry="8.4" fill="#fff" stroke="#222" stroke-width="1.5" transform="rotate(-22 491.5 763.5)"/>
<ellipse cx="492" cy="763.8" rx="4" ry="6.6" fill="none" stroke="#666" stroke-width="0.7" transform="rotate(-22 492 763.8)"/>
<path d="M511.2,745.5 L533.4,759.7 L535.8,770.8 L531,769.5 L508.8,756 Q504.5,750 511.2,745.5 Z" fill="#fff" stroke="#444" stroke-width="1" />
<path d="M531,760.3 L535,760 L535.8,770.8 L531.3,769.5 Z" fill="#fff" stroke="#222" stroke-width="1.3" />
<path d="M513.8,753.5 Q516,749.6 520.5,751.5 L531,759.5 M513.8,753.5 Q522,762 531,765.5" fill="none" stroke="#444" stroke-width="0.9" />
<path d="M549.2,739.2 L559.4,734.8 L568,749.4 L561.5,754.8 Z" fill="#fff" stroke="#444" stroke-width="1" />
<path d="M552.5,738 L563.5,752" fill="none" stroke="#666" stroke-width="0.8" />
<path d="M546.5,777.4 L596,749.4 L603.5,751.5 L554,779.5 Z" fill="#fff" stroke="#333" stroke-width="1" />
<path d="M554,779.5 L603.5,751.5 L603.5,757.5 L554,785.5 Z" fill="#fff" stroke="#333" stroke-width="1" />
<path d="M546.5,777.4 L554,779.5 L554,785.5 L548.5,783.5 Z" fill="#fff" stroke="#333" stroke-width="1" />
<path d="M556,783 L602,757" fill="none" stroke="#333" stroke-width="1.4" stroke-dasharray="2 3.5"/>
<path d="M562,755 Q566,748 572,750 L582,757 Q584,764 578,766 Q570,768 565,762 Z" fill="#fff" stroke="#333" stroke-width="1" />
<path d="M566,750 Q561,756 566,764" fill="none" stroke="#222" stroke-width="1.8" />
<path d="M574,752 Q572,759 576,765" fill="none" stroke="#555" stroke-width="0.8" />
<polyline class="ld" points="536.7,796 536.7,857"/>
<text x="537" y="872.8" text-anchor="middle" class="lb">17</text>
</svg>
</body></html>
